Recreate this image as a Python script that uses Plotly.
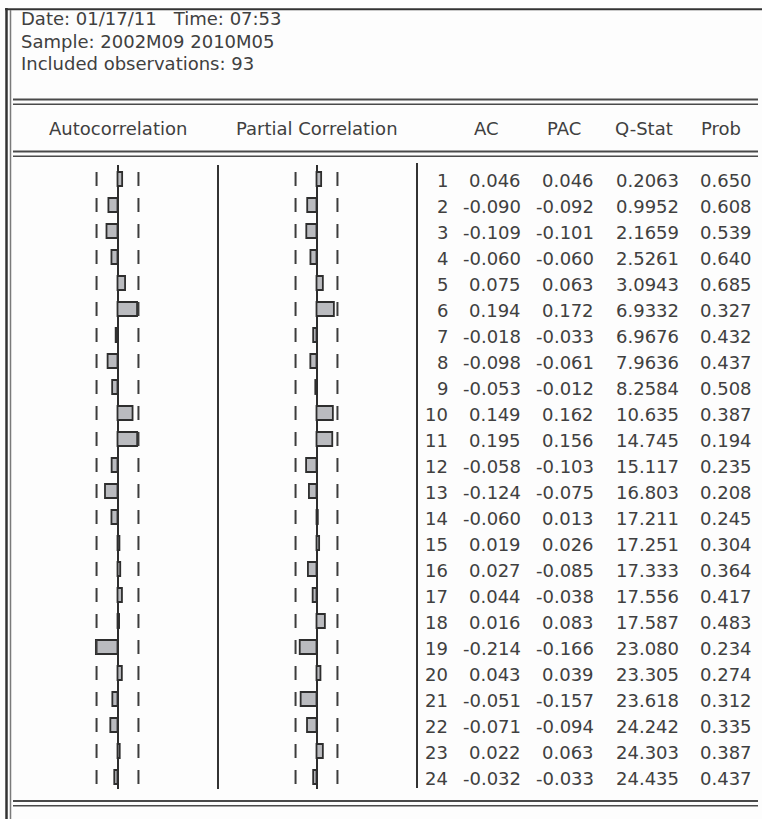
import plotly.graph_objects as go

# Correlogram output: Date 01/17/11, sample 2002M09-2010M05, 93 observations
n_obs = 93
lags = list(range(1, 25))
ac = [0.046, -0.090, -0.109, -0.060, 0.075, 0.194, -0.018, -0.098, -0.053, 0.149,
      0.195, -0.058, -0.124, -0.060, 0.019, 0.027, 0.044, 0.016, -0.214, 0.043,
      -0.051, -0.071, 0.022, -0.032]
pac = [0.046, -0.092, -0.101, -0.060, 0.063, 0.172, -0.033, -0.061, -0.012, 0.162,
       0.156, -0.103, -0.075, 0.013, 0.026, -0.085, -0.038, 0.083, -0.166, 0.039,
       -0.157, -0.094, 0.063, -0.033]
q_stat = [0.2063, 0.9952, 2.1659, 2.5261, 3.0943, 6.9332, 6.9676, 7.9636, 8.2584, 10.635,
          14.745, 15.117, 16.803, 17.211, 17.251, 17.333, 17.556, 17.587, 23.080, 23.305,
          23.618, 24.242, 24.303, 24.435]
prob = [0.650, 0.608, 0.539, 0.640, 0.685, 0.327, 0.432, 0.437, 0.508, 0.387,
        0.194, 0.235, 0.208, 0.245, 0.304, 0.364, 0.417, 0.483, 0.234, 0.274,
        0.312, 0.335, 0.387, 0.437]
header_lines = ["Date: 01/17/11   Time: 07:53",
                "Sample: 2002M09 2010M05",
                "Included observations: 93"]
col_titles = ["Autocorrelation", "Partial Correlation", "AC", "PAC", "Q-Stat", "Prob"]

W, H = 762, 819
FONT = "DejaVu Sans"
FS = 18
TXT = "#404040"
BAR_FILL = "#babbbf"
BAR_EDGE = "#2e2e2e"

band = 2 / n_obs ** 0.5  # approximate 2 s.e. bounds


def px(x):
    return x / W


def py(y):
    return 1 - y / H


fig = go.Figure()

# bars (autocorrelation / partial correlation)
for vals, xa in ((ac, "x"), (pac, "x2")):
    fig.add_trace(go.Bar(
        x=vals, y=lags, base=0, orientation="h", width=0.54,
        marker=dict(color=BAR_FILL, line=dict(color=BAR_EDGE, width=1.8)),
        xaxis=xa, yaxis="y", showlegend=False, hoverinfo="skip",
    ))
    for b in (-band, band):
        fig.add_trace(go.Scatter(
            x=[b] * len(lags), y=lags, mode="markers",
            marker=dict(symbol="line-ns", size=10, line=dict(color="#3c3c3c", width=2)),
            xaxis=xa, yaxis="y", showlegend=False, hoverinfo="skip",
        ))

hidden = dict(showgrid=False, showticklabels=False, ticks="", showline=False)
zero_ax = dict(hidden, zeroline=True, zerolinecolor="#2e2e2e", zerolinewidth=2,
               range=[-0.5, 0.5])
fig.update_layout(
    width=W, height=H, margin=dict(l=0, r=0, t=0, b=0),
    paper_bgcolor="#fdfdfd", plot_bgcolor="rgba(0,0,0,0)",
    xaxis=dict(zero_ax, domain=[px(67), px(168)], anchor="y"),
    xaxis2=dict(zero_ax, domain=[px(266), px(367)], anchor="y"),
    xaxis3=dict(hidden, zeroline=False, domain=[0, 1], range=[0, W], anchor="y"),
    yaxis=dict(hidden, zeroline=False, domain=[py(789), py(165)], range=[24.4615, 0.4615]),
    font=dict(family=FONT, size=FS, color=TXT),
)

# numeric table
cols = [
    (450, [str(k) for k in lags]),
    (523, [f"{v:.3f}" for v in ac]),
    (596, [f"{v:.3f}" for v in pac]),
    (681, [f"{q:.4f}" if q < 10 else f"{q:.3f}" for q in q_stat]),
    (754, [f"{p:.3f}" for p in prob]),
]
for xr, texts in cols:
    for k, t in zip(lags, texts):
        fig.add_annotation(x=xr, y=k, xref="x3", yref="y", text=t, showarrow=False,
                           xanchor="right", yanchor="middle", yshift=-1.5,
                           font=dict(family=FONT, size=FS, color=TXT))

# header text
for i, line in enumerate(header_lines):
    fig.add_annotation(x=px(19), y=py(18.5 + 22.7 * i), xref="paper", yref="paper",
                       text=line, showarrow=False, xanchor="left", yanchor="middle",
                       font=dict(family=FONT, size=FS, color=TXT))

title_x = [117.5, 317, 486, 564, 644, 721]
for t, xc in zip(col_titles, title_x):
    fig.add_annotation(x=px(xc), y=py(128), xref="paper", yref="paper", text=t,
                       showarrow=False, xanchor="center", yanchor="middle",
                       font=dict(family=FONT, size=FS, color=TXT))

# frame and rules
shapes = []


def hline(y, x0, x1, w, c):
    shapes.append(dict(type="line", xref="paper", yref="paper", x0=px(x0), x1=px(x1),
                       y0=py(y), y1=py(y), line=dict(color=c, width=w)))


def vline(x, y0, y1, w, c):
    shapes.append(dict(type="line", xref="paper", yref="paper", x0=px(x), x1=px(x),
                       y0=py(y0), y1=py(y1), line=dict(color=c, width=w)))


hline(9.3, 5, 762, 2, "#333333")
vline(6.5, 8, 819, 2.5, "#333333")
vline(10.5, 10, 819, 1.5, "#7a7a7a")
for y in (99.5, 151.5, 801):
    hline(y, 13, 758, 2, "#4a4a4a")
    hline(y + 4.7, 13, 758, 1.6, "#4a4a4a")
vline(218, 165, 789, 2, "#333333")
vline(417, 163, 788, 2, "#333333")

fig.update_layout(shapes=shapes)
fig.write_html("out.html")
